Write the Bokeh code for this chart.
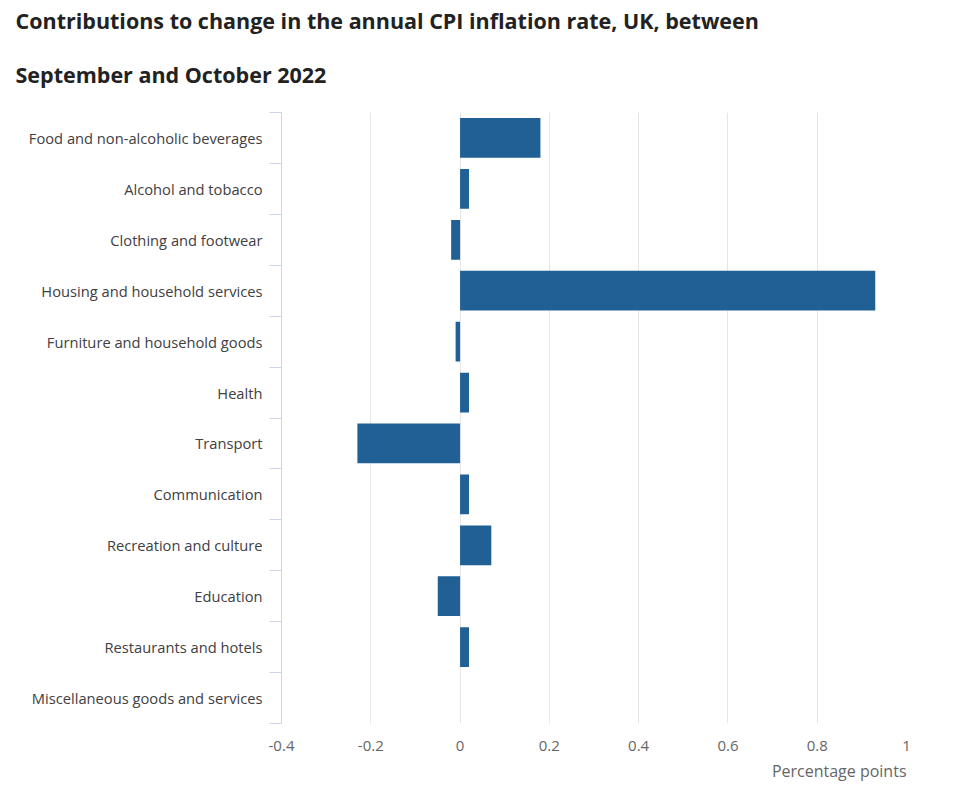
from bokeh.plotting import figure
from bokeh.models import (Range1d, LinearAxis, FixedTicker, Title)
from bokeh.embed import file_html
from bokeh.resources import INLINE

categories = [
    "Food and non-alcoholic beverages",
    "Alcohol and tobacco",
    "Clothing and footwear",
    "Housing and household services",
    "Furniture and household goods",
    "Health",
    "Transport",
    "Communication",
    "Recreation and culture",
    "Education",
    "Restaurants and hotels",
    "Miscellaneous goods and services",
]
values = [0.18, 0.02, -0.02, 0.93, -0.01, 0.02, -0.23, 0.02, 0.07, -0.05, 0.02, 0.0]
x_ticks = [-0.4, -0.2, 0, 0.2, 0.4, 0.6, 0.8, 1.0]
x_tick_labels = ["-0.4", "-0.2", "0", "0.2", "0.4", "0.6", "0.8", "1"]
title_lines = ["Contributions to change in the annual CPI inflation rate, UK, between",
               "September and October 2022"]
x_title = "Percentage points"

FONT = "Open Sans"
BAR = "#206095"
AXIS = "#ccd6eb"

W, H = 940, 790
n = len(categories)
# first category at the top: position of each category's band centre
y_pos = [n - 0.5 - i for i in range(n)]

p = figure(width=W, height=H, output_backend="svg", toolbar_location=None,
           y_range=Range1d(0, n), x_range=Range1d(-0.4, 1.0),
           y_axis_location=None, x_axis_location="below",
           min_border_left=281, min_border_right=34,
           min_border_top=112, min_border_bottom=67)
p.outline_line_color = None
p.ygrid.grid_line_color = None
p.xgrid.grid_line_color = "#e6e6e6"
p.xgrid.ticker = FixedTicker(ticks=x_ticks)

# category labels at band centres, separator (minor) ticks at band boundaries
lab_axis = LinearAxis(ticker=FixedTicker(ticks=y_pos, minor_ticks=list(range(n + 1))),
                      major_label_overrides={y: c for y, c in zip(y_pos, categories)},
                      axis_line_color=AXIS,
                      major_tick_line_color=None, major_tick_out=12, major_tick_in=0,
                      minor_tick_line_color=AXIS, minor_tick_out=12, minor_tick_in=0,
                      major_label_standoff=7,
                      major_label_text_font=FONT,
                      major_label_text_font_size="14.7px",
                      major_label_text_color="#414042")
p.add_layout(lab_axis, "left")

xa = p.xaxis[0]
xa.ticker = FixedTicker(ticks=x_ticks)
xa.major_label_overrides = {t: l for t, l in zip(x_ticks, x_tick_labels)}
xa.axis_line_color = None
xa.major_tick_line_color = None
xa.minor_tick_line_color = None
xa.major_label_standoff = 11
xa.major_label_text_font = FONT
xa.major_label_text_font_size = "15px"
xa.major_label_text_color = "#666666"

p.hbar(y=y_pos, left=0, right=values, height=0.78,
       fill_color=BAR, line_color=None)

# titles: the one added later sits further from the frame
p.add_layout(Title(text=title_lines[1], align="left", offset=-266, standoff=47,
                   text_font=FONT, text_font_size="21.5px", text_font_style="bold",
                   text_color="#222222"), "above")
p.add_layout(Title(text=title_lines[0], align="left", offset=-266, standoff=0,
                   text_font=FONT, text_font_size="21.5px", text_font_style="bold",
                   text_color="#222222"), "above")
p.add_layout(Title(text=x_title, align="right", standoff=9,
                   text_font=FONT, text_font_size="16px", text_font_style="normal",
                   text_color="#666666"), "below")

open("out.html", "w").write(file_html(p, INLINE))
